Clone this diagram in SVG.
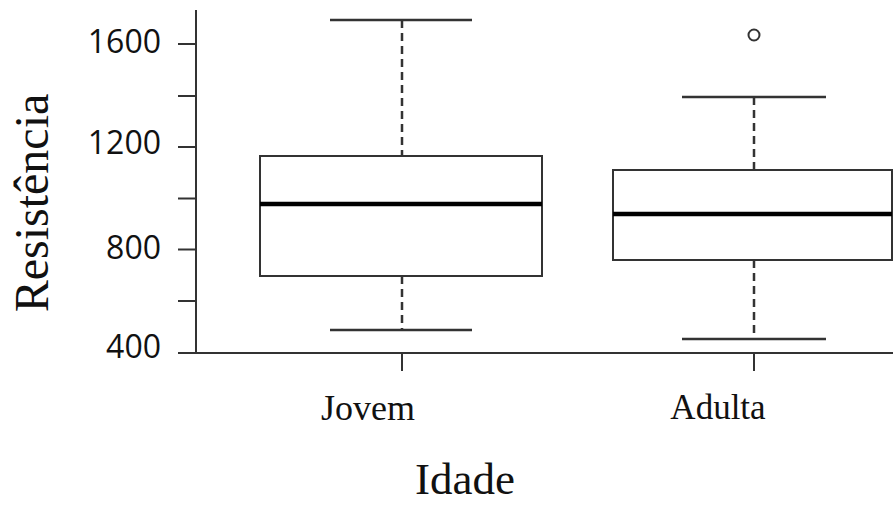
<svg xmlns="http://www.w3.org/2000/svg" width="893" height="505" viewBox="0 0 893 505">
<style>
.ax{stroke:#333;stroke-width:2;fill:none}
.box{stroke:#333;stroke-width:2;fill:#fff}
.med{stroke:#000;stroke-width:4.5}
.wh{stroke:#333;stroke-width:2.5;stroke-dasharray:8 5}
.cap{stroke:#333;stroke-width:2.5}
.tl{font-family:"Open Sans","Liberation Sans",sans-serif;font-size:32px;fill:#111;text-anchor:end}
.sf{font-family:"Liberation Serif","Times New Roman",serif;fill:#111;text-anchor:middle}
</style>
<rect width="893" height="505" fill="#fff"/>
<g id="axes">
<line class="ax" x1="196" y1="10" x2="196" y2="353"/>
<line class="ax" x1="196" y1="353" x2="893" y2="353"/>
<line class="ax" x1="178" y1="44" x2="196" y2="44"/>
<line class="ax" x1="178" y1="96" x2="196" y2="96"/>
<line class="ax" x1="178" y1="147" x2="196" y2="147"/>
<line class="ax" x1="178" y1="198.5" x2="196" y2="198.5"/>
<line class="ax" x1="178" y1="249.5" x2="196" y2="249.5"/>
<line class="ax" x1="178" y1="301" x2="196" y2="301"/>
<line class="ax" x1="178" y1="353" x2="196" y2="353"/>
<line class="ax" x1="402" y1="353" x2="402" y2="371"/>
<line class="ax" x1="754" y1="353" x2="754" y2="371"/>
<text class="tl" x="161" y="53">1600</text>
<text class="tl" x="161" y="154">1200</text>
<text class="tl" x="161" y="259">800</text>
<text class="tl" x="161" y="358">400</text>
<text class="sf" font-size="36" x="368" y="420">Jovem</text>
<text class="sf" font-size="35" x="718" y="419">Adulta</text>
<text class="sf" font-size="45" x="465" y="494">Idade</text>
<text class="sf" font-size="48" transform="translate(48,203) rotate(-90)">Resistência</text>
</g>
<g id="jovem">
<line class="wh" x1="402" y1="20" x2="402" y2="156"/>
<line class="wh" x1="402" y1="276" x2="402" y2="330"/>
<line class="cap" x1="330" y1="20" x2="472" y2="20"/>
<line class="cap" x1="330" y1="330" x2="472" y2="330"/>
<rect class="box" x="260" y="156" width="282" height="120"/>
<line class="med" x1="260" y1="204" x2="542" y2="204"/>
</g>
<g id="adulta">
<circle cx="754" cy="35" r="5.5" fill="none" stroke="#333" stroke-width="2"/>
<line class="wh" x1="754" y1="97" x2="754" y2="170"/>
<line class="wh" x1="754" y1="260" x2="754" y2="339"/>
<line class="cap" x1="682" y1="97" x2="826" y2="97"/>
<line class="cap" x1="682" y1="339" x2="826" y2="339"/>
<rect class="box" x="613" y="170" width="279" height="90"/>
<line class="med" x1="613" y1="214" x2="892" y2="214"/>
</g>
</svg>
